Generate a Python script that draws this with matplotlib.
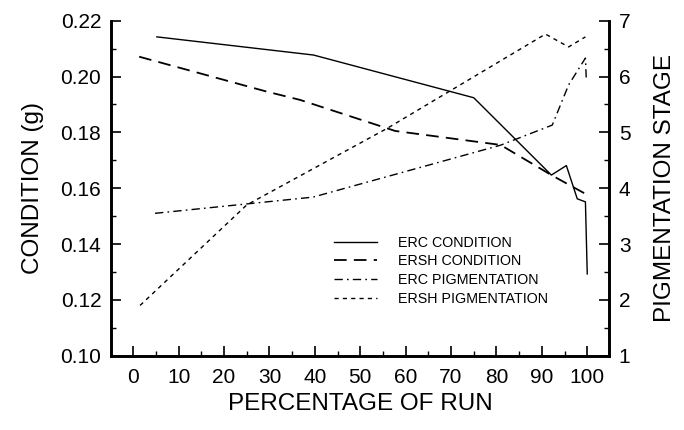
import matplotlib
matplotlib.use('Agg')
import matplotlib.pyplot as plt
from matplotlib.ticker import MultipleLocator

plt.rcParams['font.family'] = ['Liberation Sans', 'DejaVu Sans']

# ERC condition (g)
erc_cond_x = [5.2, 39.7, 75.0, 92.1, 95.4, 97.8, 99.6, 100.0]
erc_cond_y = [0.2142, 0.2077, 0.1924, 0.1647, 0.1681, 0.1562, 0.1551, 0.1293]

# ERSH condition (g)
ersh_cond_x = [1.3, 29.4, 36.8, 57.7, 80.9, 92.1, 99.8]
ersh_cond_y = [0.2071, 0.1946, 0.1916, 0.1805, 0.1755, 0.1647, 0.1578]

# ERC pigmentation stage
erc_pig_x = [4.8, 39.6, 80.9, 92.3, 95.9, 99.6, 99.8]
erc_pig_y = [3.55, 3.84, 4.77, 5.13, 5.85, 6.33, 5.94]

# ERSH pigmentation stage
ersh_pig_x = [1.5, 25.0, 55.9, 90.8, 95.9, 99.6]
ersh_pig_y = [1.90, 3.70, 5.07, 6.76, 6.53, 6.71]

x_ticks = list(range(0, 101, 10))
left_ticks = [0.10, 0.12, 0.14, 0.16, 0.18, 0.20, 0.22]
right_ticks = [1, 2, 3, 4, 5, 6, 7]

fig = plt.figure(figsize=(6.84, 4.30), dpi=100)
ax = fig.add_axes([0.1623, 0.1728, 0.7281, 0.7791])
ax2 = ax.twinx()

lw = 1.0
l1, = ax.plot(erc_cond_x, erc_cond_y, color='k', lw=lw, ls='-', label='ERC CONDITION')
l2, = ax.plot(ersh_cond_x, ersh_cond_y, color='k', lw=1.3, ls=(0, (7, 4)), label='ERSH CONDITION')
l3, = ax2.plot(erc_pig_x, erc_pig_y, color='k', lw=lw, ls=(0, (6, 3, 1.2, 3)), label='ERC PIGMENTATION')
l4, = ax2.plot(ersh_pig_x, ersh_pig_y, color='k', lw=lw, ls=(0, (3, 3)), label='ERSH PIGMENTATION')

ax.set_xlim(-4.9, 104.8)
ax.set_ylim(0.10, 0.22)
ax2.set_ylim(1, 7)

ax.set_xticks(x_ticks)
ax.set_xticklabels([str(v) for v in x_ticks])
ax.xaxis.set_minor_locator(MultipleLocator(5))
ax.set_yticks(left_ticks)
ax.set_yticklabels(['%.2f' % v for v in left_ticks])
ax.yaxis.set_minor_locator(MultipleLocator(0.01))
ax2.set_yticks(right_ticks)
ax2.set_yticklabels([str(v) for v in right_ticks])
ax2.yaxis.set_minor_locator(MultipleLocator(0.5))

for a in (ax, ax2):
    a.spines['top'].set_visible(False)
    for s in ('left', 'right', 'bottom'):
        a.spines[s].set_linewidth(1.9)
    a.tick_params(which='major', direction='in', length=7.5, width=1.2, labelsize=15, pad=7)
    a.tick_params(which='minor', direction='in', length=3.5, width=1.0)
ax.tick_params(axis='x', which='both', top=False)
ax.tick_params(axis='x', which='major', pad=9)

ax.set_xlabel('PERCENTAGE OF RUN', fontsize=17.5, labelpad=4)
ax.set_ylabel('CONDITION (g)', fontsize=17.5, labelpad=12)
ax2.set_ylabel('PIGMENTATION STAGE', fontsize=17.5, labelpad=17)

leg = ax.legend(handles=[l1, l2, l3, l4], loc='upper left',
                bbox_to_anchor=(0.422, 0.397), frameon=False, fontsize=10.3,
                handlelength=3.0, handletextpad=1.5, labelspacing=0.33)

fig.savefig('out.png', dpi=100)
